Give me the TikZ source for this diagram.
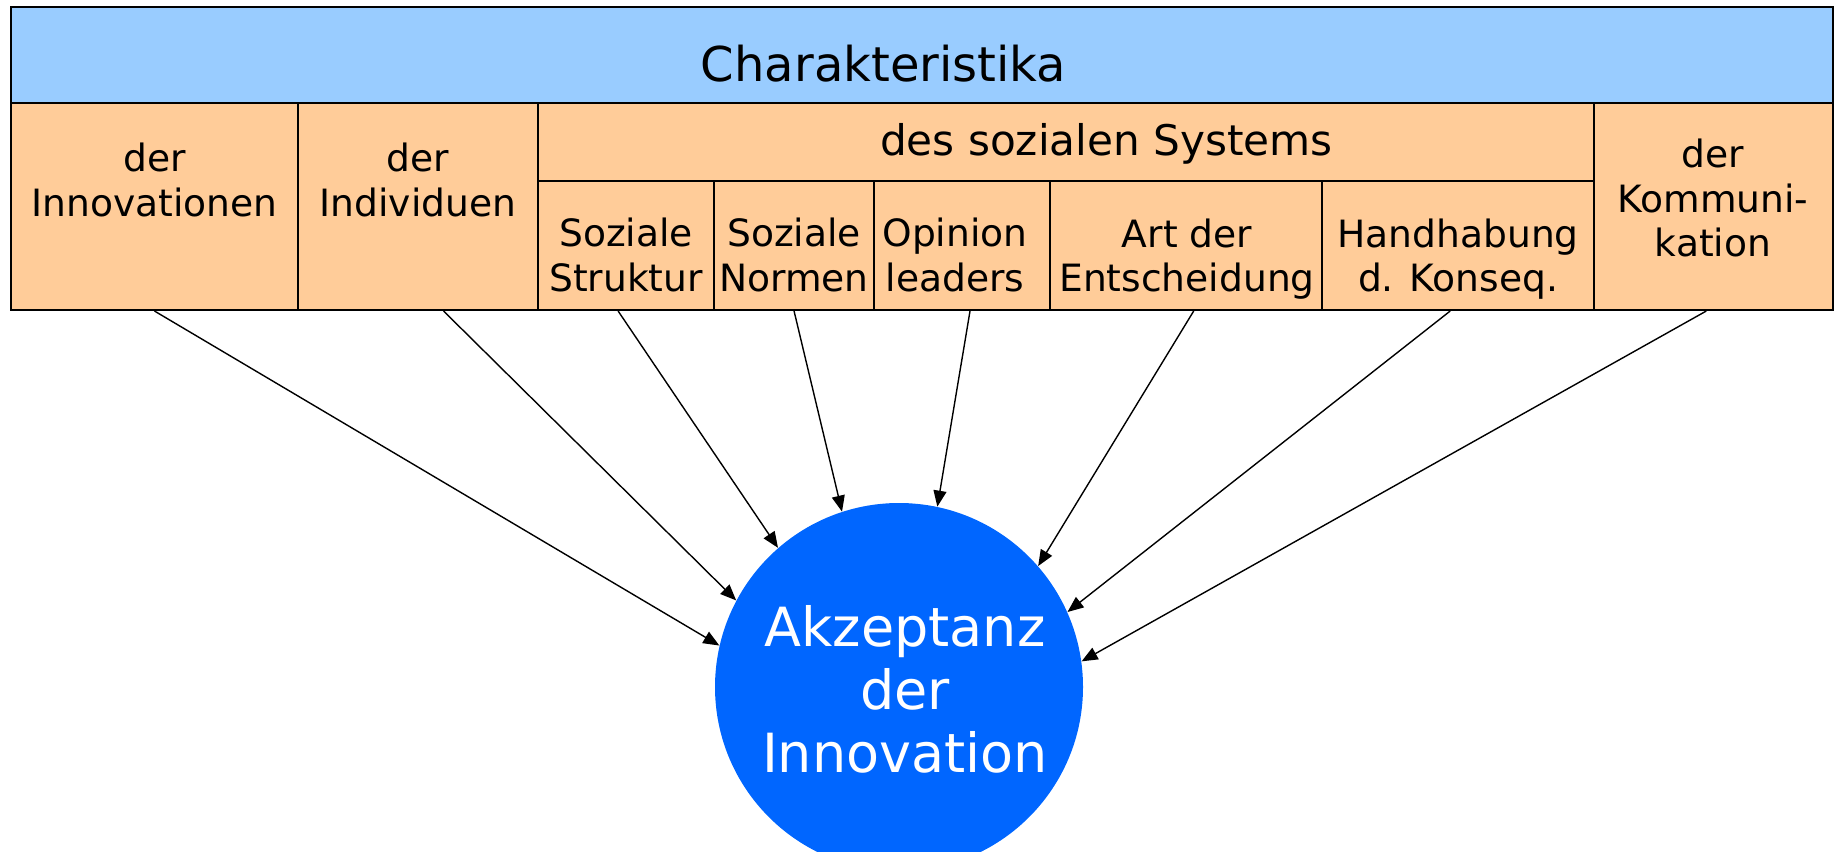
\documentclass[tikz,border=0pt]{standalone}
\usepackage{fontspec}
\setmainfont{DejaVu Sans}
\usetikzlibrary{arrows.meta}
\definecolor{hdr}{HTML}{99CCFF}
\definecolor{cellc}{HTML}{FFCC99}
\definecolor{circc}{HTML}{0066FF}
\tikzset{
  cell/.style={draw=black, fill=cellc, line width=1pt, rectangle, inner sep=0pt},
  hdrbox/.style={draw=black, fill=hdr, line width=1pt, rectangle, inner sep=0pt},
  celltext/.style={align=center, inner sep=0pt, font=\fontsize{18.8}{22.2}\selectfont},
  arr/.style={-{Triangle[length=8pt,width=6.5pt]}, line width=0.7pt, black},
}
\begin{document}
\begin{tikzpicture}[x=0.5pt,y=-0.5pt]
\useasboundingbox (0,0) rectangle (1835,851);
\clip (0,0) rectangle (1835,851);
% circle
\node[circle, fill=circc, minimum size=184pt, inner sep=0pt] (acc) at (899,687) {};
\node[align=center, inner sep=0pt, text=white, font=\fontsize{27}{31.5}\selectfont] (acct) at (905,689) {Akzeptanz\\der\\Innovation};
% header
\node[hdrbox, minimum width=911.25pt, minimum height=48pt] (hdr) at (921.75,55) {};
\node[inner sep=0pt, font=\fontsize{24}{28}\selectfont] (hdrt) at (883.6,64) {Charakteristika};
% cells
\node[cell, minimum width=143.95pt, minimum height=103.5pt] (c1) at (154.45,206.5) {};
\node[cell, minimum width=119.95pt, minimum height=103.5pt] (c2) at (418.35,206.5) {};
\node[cell, minimum width=527.85pt, minimum height=39.2pt] (soz) at (1066.15,142.2) {};
\node[cell, minimum width=87.8pt, minimum height=64.3pt] (s1) at (626.1,245.7) {};
\node[cell, minimum width=80.15pt, minimum height=64.3pt] (s2) at (794.05,245.7) {};
\node[cell, minimum width=87.8pt, minimum height=64.3pt] (s3) at (962,245.7) {};
\node[cell, minimum width=136.3pt, minimum height=64.3pt] (s4) at (1186.1,245.7) {};
\node[cell, minimum width=135.8pt, minimum height=64.3pt] (s5) at (1458.2,245.7) {};
\node[cell, minimum width=119.5pt, minimum height=103.5pt] (c3) at (1713.5,206.5) {};
% texts
\node[celltext] (t1) at (154.5,180) {der\\Innovationen};
\node[celltext] (t2) at (418,180) {der\\Individuen};
\node[inner sep=0pt, anchor=base, font=\fontsize{21.1}{25}\selectfont] (tsoz) at (1106.5,155) {des sozialen Systems};
\node[celltext] (ts1) at (626,255) {Soziale\\Struktur};
\node[celltext] (ts2) at (794,255) {Soziale\\Normen};
\node[celltext] (ts3) at (955,255) {Opinion\\leaders};
\node[celltext] (ts4) at (1187,259) {Art der\\Entscheidung};
\node[celltext] (ts5) at (1458,259) {Handhabung\\d. Konseq.};
\node[celltext] (t3) at (1713,198) {der\\Kommuni-\\kation};
% arrows
\draw[arr] (c1.south) -- (acc.167);
\draw[arr] ([xshift=12.6pt]c2.south) -- (acc.152);
\draw[arr] ([xshift=-4pt]s1.south) -- (acc.131);
\draw[arr] (s2.south) -- (acc.108.6);
\draw[arr] ([xshift=4pt]s3.south) -- (acc.78);
\draw[arr] ([xshift=3.8pt]s4.south) -- (acc.41.3);
\draw[arr] ([xshift=-4pt]s5.south) -- (acc.24.2);
\draw[arr] ([xshift=-3.6pt]c3.south) -- (acc.8.6);
\end{tikzpicture}
\end{document}
